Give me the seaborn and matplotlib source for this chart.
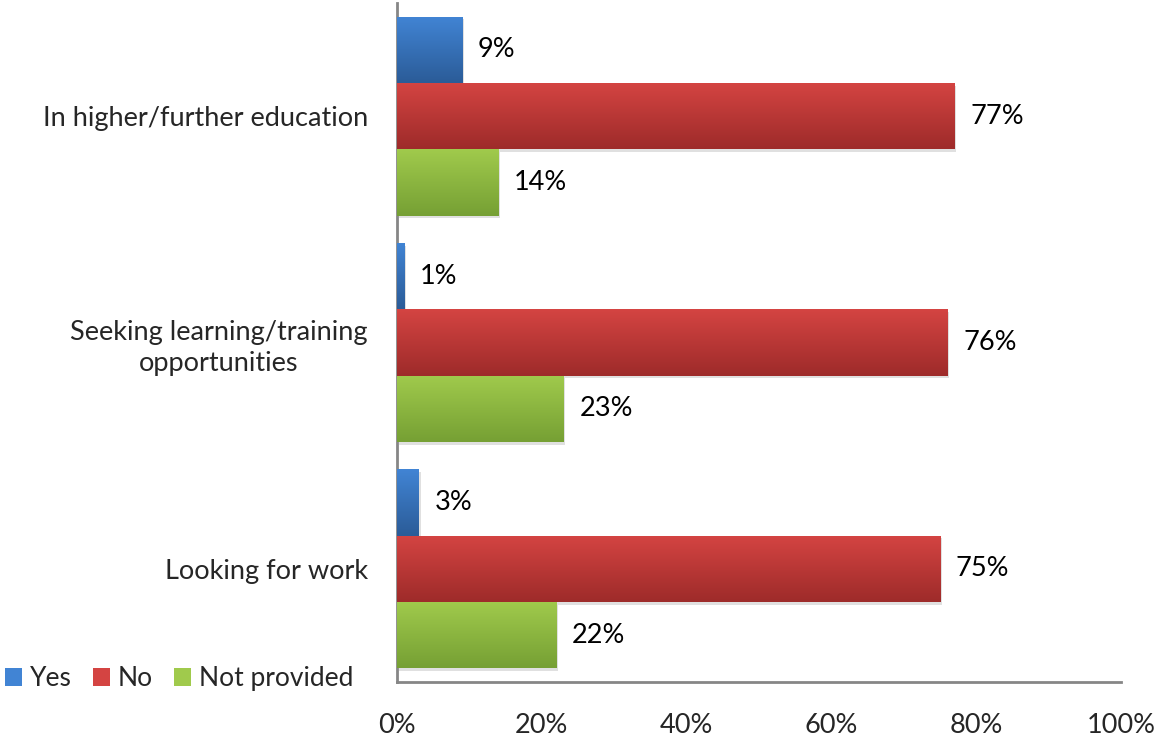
import numpy as np
import pandas as pd
import matplotlib
matplotlib.use("Agg")
import matplotlib.pyplot as plt
import seaborn as sns
from matplotlib.colors import LinearSegmentedColormap
from matplotlib.patches import Rectangle

categories = ["In higher/further education",
              "Seeking learning/training\nopportunities",
              "Looking for work"]
series = ["Yes", "No", "Not provided"]
yes_vals = [9, 1, 3]
no_vals = [77, 76, 75]
not_provided_vals = [14, 23, 22]
x_ticks = [0, 20, 40, 60, 80, 100]

colors_top = {"Yes": "#4184d4", "No": "#d44442", "Not provided": "#a0ca4c"}
colors_bottom = {"Yes": "#2b5c98", "No": "#9e2b2a", "Not provided": "#76a034"}

df = pd.DataFrame({
    "Category": categories * 3,
    "Response": [s for s in series for _ in categories],
    "Value": yes_vals + no_vals + not_provided_vals,
})

sns.set_theme(style="white")
plt.rcParams["font.family"] = ["Lato", "DejaVu Sans"]

FS = 19.5

fig = plt.figure(figsize=(11.54, 7.37), dpi=100)
ax = fig.add_axes([0.344, 0.0746, 0.6274, 0.9214])

palette = {s: colors_top[s] for s in series}
sns.barplot(data=df, y="Category", x="Value", hue="Response", order=categories,
            hue_order=series, palette=palette, orient="h", width=0.88,
            dodge=True, ax=ax, legend=False, linewidth=0, saturation=1)

# Vertical gradient fill and soft shadow for each bar
for container, s in zip(ax.containers, series):
    cmap = LinearSegmentedColormap.from_list(s, [colors_top[s], colors_bottom[s]])
    grad = np.linspace(0, 1, 64).reshape(-1, 1)
    for bar, val in zip(container, container.datavalues):
        x0, y0 = bar.get_x(), bar.get_y()
        w, h = bar.get_width(), bar.get_height()
        shadow = Rectangle((x0 + 0.25, y0 + 0.012), w, h, facecolor="#000000",
                           alpha=0.12, linewidth=0, zorder=1)
        ax.add_patch(shadow)
        bar.set_zorder(2)
        im = ax.imshow(grad, cmap=cmap, aspect="auto",
                       extent=(x0, x0 + w, y0 + h, y0), zorder=3,
                       interpolation="bilinear")
        im.set_clip_path(bar)
        ax.text(x0 + w + 2.2, y0 + h / 2, f"{val:.0f}%", va="center", ha="left",
                fontsize=FS, color="#000000", zorder=4)

ax.set_xlim(0, 100)
ax.set_ylim(2.5, -0.5)
ax.set_xticks(x_ticks)
ax.set_xticklabels([f"{t}%" for t in x_ticks], fontsize=FS)
ax.set_xlabel("")
ax.set_ylabel("")
for lbl in ax.get_yticklabels():
    lbl.set_fontsize(FS)
    lbl.set_multialignment("center")
    lbl.set_linespacing(1.3)
ax.tick_params(axis="x", length=0, pad=22)
ax.tick_params(axis="y", length=0, pad=21)

for side in ["top", "right"]:
    ax.spines[side].set_visible(False)
for side in ["left", "bottom"]:
    ax.spines[side].set_color("#868686")
    ax.spines[side].set_linewidth(2)
ax.grid(False)

handles = [Rectangle((0, 0), 1, 1, facecolor=colors_top[s], edgecolor="none") for s in series]
fig.legend(handles, series, loc="lower left", bbox_to_anchor=(0.004, 0.062), ncol=3,
           frameon=False, fontsize=19, handlelength=0.65, handleheight=0.65,
           handletextpad=0.3, columnspacing=0.8, borderpad=0.0, borderaxespad=0.0)

fig.savefig("out.png", dpi=100)
